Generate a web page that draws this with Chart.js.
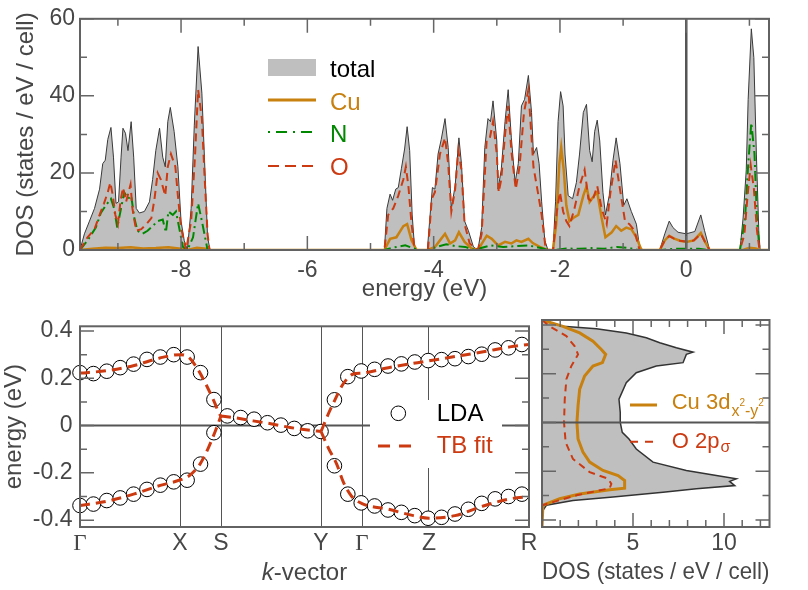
<!DOCTYPE html>
<html>
<head>
<meta charset="utf-8">
<title>DOS and band structure</title>
<script src="https://cdn.jsdelivr.net/npm/chart.js@4.4.1/dist/chart.umd.min.js"></script>
<style>
  body { margin: 0; background: #fff; }
  #wrap { position: relative; width: 808px; height: 590px; overflow: hidden; }
  canvas { position: absolute; }
</style>
</head>
<body>
<div id="wrap">
  <canvas id="dosChart" width="808" height="305" style="left:0;top:0"></canvas>
  <canvas id="bandChart" width="560" height="285" style="left:0;top:305px"></canvas>
  <canvas id="pdosChart" width="308" height="285" style="left:500px;top:305px"></canvas>
</div>
<script>
// top panel: projected DOS (energy in eV, DOS in states / eV / cell)
const totalE = [-9.6, -9.53, -9.45, -9.37, -9.29, -9.24, -9.2, -9.16, -9.11, -9.07, -9.03, -8.99, -8.95, -8.92, -8.88, -8.84, -8.79, -8.75, -8.71, -8.66, -8.58, -8.5, -8.45, -8.4, -8.34, -8.29, -8.25, -8.21, -8.17, -8.11, -8.05, -8.0, -7.95, -7.9, -7.84, -7.79, -7.73, -7.67, -7.63, -7.58, -7.54,
  -4.78, -4.74, -4.69, -4.65, -4.6, -4.56, -4.51, -4.46, -4.42, -4.38, -4.34, -4.3, -4.1, -4.06, -4.02, -3.98, -3.93, -3.88, -3.82, -3.77, -3.72, -3.66, -3.6, -3.56, -3.51, -3.45, -3.37, -3.3, -3.24, -3.19, -3.14, -3.1, -3.06, -3.0, -2.98, -2.93, -2.87, -2.82, -2.77, -2.71, -2.66, -2.61, -2.56, -2.5, -2.45, -2.42, -2.37, -2.33, -2.29, -2.24, -2.19, -2.11, -2.07, -2.03, -1.99, -1.95, -1.92, -1.87, -1.8, -1.74, -1.69, -1.63, -1.58, -1.53, -1.49, -1.45, -1.41, -1.37, -1.32, -1.28, -1.22, -1.16, -1.11, -1.05, -0.99, -0.94, -0.87, -0.79, -0.74, -0.68,
  -0.42, -0.34, -0.27, -0.21, -0.13, 0, 0.135, 0.23, 0.29, 0.37, 0.85, 0.9, 0.95, 0.98, 1.03, 1.07, 1.11, 1.15, 1.17, 1.31];
const totalDos = [0, 4.2, 7.5, 10.8, 15.8, 22.4, 23.3, 28.7, 31.8, 24.1, 12.1, 12.5, 24.1, 31.6, 30.3, 25.8, 33.3, 24.1, 10.8, 9.6, 10.0, 12.5, 18.3, 25.8, 31.6, 24.1, 21.6, 33.3, 37.0, 30.8, 21.6, 7.5, 2.5, 0, 10.8, 32.4, 52.8, 40.7, 24.1, 3.3, 0,
  0, 10.8, 14.5, 12.9, 15.8, 16.2, 21.2, 26.2, 32.0, 25.8, 9.1, 0, 0, 8.3, 16.2, 15.8, 24.9, 28.7, 34.1, 26.6, 10.8, 16.6, 29.1, 22.4, 7.5, 5.0, 0.8, 0, 5.8, 26.6, 34.1, 33.3, 38.7, 28.3, 15.8, 20.8, 33.3, 41.6, 29.1, 17.5, 22.4, 37.4, 39.1, 45.3, 35.7, 24.9, 26.6, 22.4, 12.5, 2.5, 0, 0, 12.5, 33.3, 41.1, 37.4, 24.9, 14.1, 13.3, 17.5, 24.9, 35.7, 37.8, 25.8, 22.9, 30.8, 33.7, 28.3, 15.0, 9.1, 14.1, 23.3, 29.1, 22.4, 11.6, 13.3, 10.0, 6.7, 0.8, 0,
  0, 4.2, 7.5, 5.8, 4.6, 4.2, 4.8, 9.1, 5.0, 0, 0, 8.3, 20.8, 39.1, 57.4, 49.9, 24.9, 4.2, 0, 0];

const cuE = [-9.6, -9.4, -9.2, -9.0, -8.8, -8.6, -8.4, -8.2, -8.0, -7.9, -7.75, -7.6, -7.54,
  -4.78, -4.69, -4.59, -4.48, -4.42, -4.35, -4.27, -4.09, -3.98, -3.9, -3.82, -3.74, -3.66, -3.6, -3.51, -3.4, -3.3, -3.22, -3.16, -3.08, -2.98, -2.87, -2.77, -2.69, -2.61, -2.5, -2.43, -2.32, -2.2, -2.11, -2.06, -2.01, -1.98, -1.94, -1.9, -1.85, -1.79, -1.71, -1.63, -1.58, -1.53, -1.46, -1.41, -1.34, -1.28, -1.18, -1.11, -1.03, -0.95, -0.87, -0.79, -0.71,
  -0.42, -0.34, -0.27, -0.2, -0.1, 0, 0.12, 0.23, 0.3, 0.37, 0.9, 1.0, 1.1, 1.17, 1.31];
const cuDos = [0, 0.3, 0.6, 0.5, 0.7, 0.4, 0.5, 0.7, 0.3, 0, 0.6, 0.3, 0,
  0, 2.9, 3.3, 6.2, 6.7, 2.5, 0, 0, 0.8, 2.5, 4.2, 1.7, 2.5, 4.6, 2.1, 0.4, 0, 2.1, 3.7, 2.9, 1.2, 2.1, 1.7, 2.5, 2.1, 2.9, 1.8, 0.8, 0, 0, 6.7, 22.4, 26.6, 20.8, 11.6, 7.5, 8.3, 9.1, 14.1, 16.5, 12.5, 14.1, 15.0, 8.3, 3.3, 4.6, 6.2, 5.0, 5.8, 5.4, 3.3, 0,
  0, 2.5, 3.7, 3.0, 2.4, 2.1, 2.5, 4.4, 2.0, 0, 0, 0.6, 0.4, 0, 0];

const nE = [-9.6, -9.48, -9.35, -9.27, -9.19, -9.11, -9.06, -9.01, -8.95, -8.9, -8.84, -8.79, -8.74, -8.69, -8.61, -8.53, -8.45, -8.37, -8.29, -8.24, -8.2, -8.13, -8.08, -8.03, -7.97, -7.9, -7.81, -7.73, -7.67, -7.63, -7.58,
  -4.78, -4.65, -4.45, -4.33, -4.25, -4.1, -3.95, -3.8, -3.65, -3.5, -3.35, -3.25, -3.1, -2.9, -2.7, -2.5, -2.3, -2.2, -2.1, -1.9, -1.7, -1.5, -1.3, -1.1, -0.9, -0.75, -0.4, -0.2, 0.2, 0.35, 0.85, 0.93, 0.98, 1.03, 1.08, 1.12, 1.16, 1.31];
const nDos = [0, 2.5, 5.8, 9.6, 11.6, 13.3, 10.8, 5.8, 10.8, 15.0, 13.3, 14.1, 8.3, 5.0, 4.2, 5.0, 6.2, 7.5, 7.9, 4.6, 10.0, 9.1, 10.0, 5.8, 0.8, 0, 3.3, 12.1, 7.5, 4.2, 0,
  0, 0.6, 1.2, 0.5, 0, 0, 0.8, 1.5, 1.0, 0.8, 0, 0.5, 1.2, 0.8, 1.0, 1.2, 0.5, 0, 0, 0.4, 0.3, 0.5, 0.3, 0.8, 0.5, 0, 0, 0.3, 0.3, 0, 0, 8, 22, 33, 25, 8, 0, 0];

const oE = [-9.6, -9.48, -9.37, -9.29, -9.22, -9.16, -9.12, -9.08, -9.04, -9.0, -8.96, -8.92, -8.87, -8.8, -8.77, -8.71, -8.63, -8.55, -8.47, -8.42, -8.37, -8.32, -8.25, -8.21, -8.16, -8.09, -8.05, -8.0, -7.92, -7.84, -7.78, -7.73, -7.67, -7.63, -7.58, -7.55,
  -4.78, -4.72, -4.64, -4.56, -4.48, -4.44, -4.4, -4.35, -4.3, -4.09, -4.03, -3.98, -3.9, -3.82, -3.77, -3.72, -3.66, -3.61, -3.56, -3.51, -3.43, -3.3, -3.24, -3.16, -3.11, -3.06, -3.0, -2.97, -2.93, -2.87, -2.82, -2.77, -2.7, -2.64, -2.57, -2.5, -2.45, -2.42, -2.35, -2.29, -2.23, -2.17, -2.11, -2.05, -2.0, -1.95, -1.9, -1.85, -1.77, -1.69, -1.61, -1.55, -1.49, -1.41, -1.34, -1.26, -1.2, -1.12, -1.05, -0.97, -0.9, -0.82, -0.74,
  -0.42, -0.34, -0.27, -0.2, -0.1, 0, 0.12, 0.23, 0.3, 0.37, 0.85, 0.92, 0.97, 1.02, 1.07, 1.12, 1.16, 1.31];
const oDos = [0, 3.3, 5.4, 9.1, 12.1, 15.0, 17.5, 14.1, 9.1, 6.7, 12.5, 16.2, 12.5, 17.0, 10.8, 5.0, 5.4, 6.7, 8.3, 13.3, 20.0, 18.3, 14.1, 21.6, 24.9, 21.6, 14.1, 5.8, 0, 7.5, 24.1, 41.6, 34.1, 20, 4.2, 0,
  0, 9.1, 10.8, 14.1, 18.3, 21.6, 16.6, 6.7, 0, 0, 13.3, 15.0, 24.9, 29.1, 22.4, 10.0, 15.8, 25.8, 20.8, 6.7, 1.7, 0, 4.2, 28.7, 29.1, 33.3, 24.9, 15.0, 18.3, 29.9, 37.4, 25.8, 15.8, 21.6, 35.7, 41.6, 29.1, 21.6, 15.0, 9.1, 0.8, 0, 0, 10.0, 15.0, 10.0, 7.5, 6.2, 10.8, 16.6, 20.8, 13.3, 12.5, 16.6, 10.8, 6.7, 15.0, 23.3, 15.8, 7.5, 6.7, 5.0, 0,
  0, 2.5, 3.6, 3.0, 2.4, 2.2, 2.5, 4.2, 2.0, 0, 0, 4, 14, 22, 16, 5, 0, 0];

// bottom left: bands along the k-path
const kPos = [0, 7.47, 10.53, 18, 21.06, 26.06, 33.53];
const kLabels = ['Γ', 'X', 'S', 'Y', 'Γ', 'Z', 'R'];

const ldaK = [0, 1, 2, 3, 4, 5, 6, 7, 8, 9, 10, 11, 12, 13, 14, 15, 16, 17, 18, 19, 20, 21, 22, 23, 24, 25, 26, 27, 28, 29, 30, 31, 32, 33];
const ldaUpper = [0.224, 0.22, 0.23, 0.245, 0.26, 0.28, 0.29, 0.30, 0.29, 0.224, 0.11, 0.041, 0.034, 0.027, 0.012, 0.002, -0.012, -0.022, -0.025, 0.109, 0.207, 0.231, 0.238, 0.252, 0.261, 0.269, 0.275, 0.279, 0.283, 0.292, 0.302, 0.32, 0.329, 0.343];
const ldaLower = [-0.338, -0.332, -0.317, -0.306, -0.29, -0.27, -0.252, -0.238, -0.231, -0.163, -0.03, null, null, null, null, null, null, null, null, -0.17, -0.29, -0.327, -0.34, -0.357, -0.367, -0.381, -0.392, -0.388, -0.374, -0.354, -0.329, -0.31, -0.30, -0.29];

// TB fit, pieces separated by null
const tbK = [0, 1.99, 3.98, 5.97, 7.47, 8.09, 8.8, 9.56, 10.06, 10.4, 10.53, 10.53,
  0, 2, 4, 6, 7.47, 8.2, 8.96, 9.58, 10.08, 10.53, 10.53,
  10.53, 11.45, 12.93, 14.42, 15.68, 17.17, 18, 18,
  18, 18.55, 19.04, 19.66, 20.41, 21.06, 23.03, 26.06, 28.0, 30.12, 32.11, 33.53, 33.53,
  18, 18.55, 19.17, 19.66, 20.28, 21.06, 23.03, 24.9, 26.06, 28.0, 30.12, 32.11, 33.53];
const tbE = [0.222, 0.232, 0.253, 0.286, 0.30, 0.29, 0.238, 0.157, 0.096, 0.05, 0.041, null,
  -0.338, -0.32, -0.29, -0.253, -0.23, -0.21, -0.163, -0.095, -0.027, 0.041, null,
  0.041, 0.034, 0.02, 0.006, -0.008, -0.02, -0.025, null,
  -0.025, 0.05, 0.109, 0.177, 0.218, 0.222, 0.245, 0.274, 0.292, 0.312, 0.333, 0.343, null,
  -0.025, -0.095, -0.163, -0.238, -0.299, -0.33, -0.354, -0.381, -0.392, -0.381, -0.34, -0.31, -0.30];

// bottom right: DOS near the Fermi level (energy on the vertical axis)
const pdosTotalE = [0.42, 0.394, 0.384, 0.367, 0.347, 0.327, 0.306, 0.288, 0.279, 0.245, 0.231, 0.204, 0.163, 0.095, 0.041, 0, -0.041, -0.068, -0.109, -0.163, -0.197, -0.218, -0.231, -0.242, -0.259, -0.272, -0.286, -0.306, -0.32, -0.34, -0.367, -0.43];
const pdosTotal = [0, 1.15, 2.99, 4.63, 5.73, 6.47, 7.38, 8.3, 7.93, 7.75, 6.28, 5.18, 4.63, 4.23, 4.3, 4.3, 4.41, 4.78, 5.18, 6.1, 7.93, 9.58, 10.68, 10.31, 10.59, 8.48, 6.65, 3.9, 1.7, 0.24, 0, 0];
const pdosCuE = [0.42, 0.394, 0.367, 0.333, 0.299, 0.279, 0.245, 0.231, 0.19, 0.136, 0.068, 0, -0.068, -0.122, -0.163, -0.197, -0.218, -0.238, -0.27, -0.276, -0.294, -0.313, -0.34, -0.43];
const pdosCu = [0, 1.15, 2.07, 2.8, 3.26, 3.5, 3.32, 2.8, 2.34, 2.07, 1.98, 1.92, 1.98, 2.25, 2.62, 3.35, 4.18, 4.54, 4.54, 3.72, 2.07, 0.97, 0.05, 0];
const pdosOE = [0.42, 0.394, 0.354, 0.313, 0.279, 0.231, 0.177, 0.095, 0, -0.082, -0.15, -0.204, -0.231, -0.252, -0.27, -0.299, -0.34, -0.43];
const pdosO = [0, 0.42, 1.34, 1.79, 1.98, 1.61, 1.34, 1.25, 1.21, 1.3, 1.7, 2.62, 3.63, 3.81, 3.72, 1.9, 0, 0];

const ORANGE = '#c8800f';
const RED = '#cc3a12';
const GREEN = '#008800';
const GREY = '#bfbfbf';
const INK = '#474747';
const LINE = '#555555';
const FONT = "'Liberation Sans', Arial, sans-serif";

Chart.defaults.font.family = FONT;
Chart.defaults.font.size = 23;
Chart.defaults.color = INK;
Chart.defaults.animation = false;
Chart.defaults.plugins.legend.display = false;
Chart.defaults.plugins.tooltip.enabled = false;

function pts(xs, ys) {
    return xs.map((x, i) => ({ x: x, y: ys[i] }));
}

// inward tick marks on both sides of the frame
function innerTicks(chart, key, minor, major) {
    const { ctx, chartArea: a } = chart;
    const s = chart.scales[key];
    ctx.save();
    ctx.strokeStyle = '#666';
    ctx.lineWidth = 1.5;
    for (let i = Math.ceil(s.min / minor - 1e-6); i <= Math.floor(s.max / minor + 1e-6); i++) {
        const v = i * minor;
        const len = Math.abs(v / major - Math.round(v / major)) < 1e-6 ? 14 : 7;
        const p = s.getPixelForValue(v);
        ctx.beginPath();
        if (key === 'x') {
            ctx.moveTo(p, a.bottom); ctx.lineTo(p, a.bottom - len);
            ctx.moveTo(p, a.top); ctx.lineTo(p, a.top + len);
        } else {
            ctx.moveTo(a.left, p); ctx.lineTo(a.left + len, p);
            ctx.moveTo(a.right, p); ctx.lineTo(a.right - len, p);
        }
        ctx.stroke();
    }
    ctx.restore();
}

function frame(chart) {
    const { ctx, chartArea: a } = chart;
    ctx.save();
    ctx.strokeStyle = '#626262';
    ctx.lineWidth = 2;
    ctx.strokeRect(a.left, a.top, a.right - a.left, a.bottom - a.top);
    ctx.restore();
}

function hLine(ctx, x1, x2, y, color, width, dash) {
    ctx.save();
    ctx.strokeStyle = color;
    ctx.lineWidth = width;
    ctx.setLineDash(dash);
    ctx.beginPath();
    ctx.moveTo(x1, y);
    ctx.lineTo(x2, y);
    ctx.stroke();
    ctx.restore();
}

function text(ctx, str, x, y, color, font) {
    ctx.font = font;
    ctx.fillStyle = color;
    ctx.textAlign = 'left';
    ctx.textBaseline = 'alphabetic';
    ctx.fillText(str, x, y);
    return x + ctx.measureText(str).width;
}

const dosExtras = {
    id: 'dosExtras',
    afterDatasetsDraw(chart) {
        const { ctx, chartArea: a, scales: { x } } = chart;
        const p = x.getPixelForValue(0);
        ctx.save();
        ctx.strokeStyle = LINE;
        ctx.lineWidth = 2.5;
        ctx.beginPath();
        ctx.moveTo(p, a.top);
        ctx.lineTo(p, a.bottom);
        ctx.stroke();
        ctx.restore();
        innerTicks(chart, 'x', 1, 2);
        innerTicks(chart, 'y', 10, 20);
        frame(chart);
    },
    afterDraw(chart) {
        const ctx = chart.ctx;
        ctx.save();
        ctx.fillStyle = GREY;
        ctx.fillRect(268, 59, 48, 17);
        hLine(ctx, 268, 316, 100, ORANGE, 3, []);
        hLine(ctx, 268, 316, 132, GREEN, 2, [2, 6, 11, 6]);
        hLine(ctx, 268, 316, 166, RED, 2, [11, 6]);
        const f = '24px ' + FONT;
        text(ctx, 'total', 330, 76.5, '#000', f);
        text(ctx, 'Cu', 330, 109.5, ORANGE, f);
        text(ctx, 'N', 330, 142.3, GREEN, f);
        text(ctx, 'O', 330, 175, RED, f);
        ctx.restore();
    }
};

const bandExtras = {
    id: 'bandExtras',
    beforeDatasetsDraw(chart) {
        const { ctx, chartArea: a, scales: { y } } = chart;
        hLine(ctx, a.left, a.right, y.getPixelForValue(0), LINE, 2, []);
        // legend box hides the lines behind it
        ctx.save();
        ctx.fillStyle = '#fff';
        ctx.fillRect(370, 95, 132, 68);
        ctx.restore();
    },
    afterDatasetsDraw(chart) {
        innerTicks(chart, 'y', 0.1, 0.2);
        frame(chart);
    },
    afterDraw(chart) {
        const { ctx, chartArea: a } = chart;
        ctx.save();
        ctx.beginPath();
        ctx.arc(398.3, 108.3, 7.3, 0, Math.PI * 2);
        ctx.fillStyle = '#fff';
        ctx.fill();
        ctx.strokeStyle = '#000';
        ctx.lineWidth = 1;
        ctx.stroke();
        hLine(ctx, 378, 420, 141, RED, 3, [12, 9]);
        text(ctx, 'LDA', 436.7, 115.7, '#000', '24px ' + FONT);
        text(ctx, 'TB fit', 436.7, 148.3, RED, '24px ' + FONT);
        // axis title with italic k
        const f = '24px ' + FONT;
        const fi = 'italic 24px ' + FONT;
        ctx.font = fi;
        const wk = ctx.measureText('k').width;
        ctx.font = f;
        const wr = ctx.measureText('-vector').width;
        const x0 = (a.left + a.right) / 2 - (wk + wr) / 2;
        const x1 = text(ctx, 'k', x0, 275, INK, fi);
        text(ctx, '-vector', x1, 275, INK, f);
        ctx.restore();
    }
};

const pdosExtras = {
    id: 'pdosExtras',
    afterDatasetsDraw(chart) {
        const { ctx, chartArea: a, scales: { y } } = chart;
        hLine(ctx, a.left, a.right, y.getPixelForValue(0), LINE, 2, []);
        innerTicks(chart, 'x', 1, 5);
        innerTicks(chart, 'y', 0.1, 0.2);
        frame(chart);
    },
    afterDraw(chart) {
        const ctx = chart.ctx;
        ctx.save();
        hLine(ctx, 130, 157, 100, ORANGE, 3, []);
        hLine(ctx, 130, 157, 136.7, RED, 2, [8, 7]);
        const f = '22px ' + FONT;
        const fs = '16px ' + FONT;
        const fp = '10px ' + FONT;
        let x = text(ctx, 'Cu 3d', 171.7, 103.5, ORANGE, f);
        x = text(ctx, 'x', x + 1, 110.5, ORANGE, fs);
        x = text(ctx, '2', x, 101, ORANGE, fp);
        x = text(ctx, '-y', x, 110.5, ORANGE, fs);
        text(ctx, '2', x, 101, ORANGE, fp);
        x = text(ctx, 'O 2p', 171.7, 143.3, RED, f);
        text(ctx, 'σ', x + 1, 147, RED, fs);
        ctx.restore();
    }
};

new Chart(document.getElementById('dosChart'), {
    type: 'line',
    data: {
        datasets: [
            { label: 'O', data: pts(oE, oDos), borderColor: RED, borderWidth: 2, borderDash: [8, 5], pointRadius: 0, fill: false },
            { label: 'N', data: pts(nE, nDos), borderColor: GREEN, borderWidth: 2, borderDash: [10, 4, 2, 4], pointRadius: 0, fill: false },
            { label: 'Cu', data: pts(cuE, cuDos), borderColor: ORANGE, borderWidth: 2.5, pointRadius: 0, fill: false },
            { label: 'total', data: pts(totalE, totalDos), borderColor: '#3a3a3a', borderWidth: 1, backgroundColor: GREY, pointRadius: 0, fill: 'origin' }
        ]
    },
    options: {
        responsive: false,
        layout: { padding: { top: 9, right: 39, left: 0, bottom: 0 }, autoPadding: false },
        scales: {
            x: {
                type: 'linear', min: -9.6, max: 1.31,
                afterFit: s => { s.height = 55; },
                grid: { display: false, drawTicks: false },
                border: { display: false },
                ticks: { stepSize: 1, autoSkip: false, maxRotation: 0, includeBounds: false, padding: 6.5,
                    callback: v => v % 2 === 0 ? String(v) : '' },
                title: { display: true, text: 'energy (eV)', color: INK, font: { size: 24 }, padding: { top: 0, bottom: 1.5 } }
            },
            y: {
                min: 0, max: 60,
                afterFit: s => { s.width = 80; },
                grid: { display: false, drawTicks: false },
                border: { display: false },
                ticks: { stepSize: 10, autoSkip: false, padding: 5, callback: v => v % 20 === 0 ? String(v) : '' },
                title: { display: true, text: 'DOS (states / eV / cell)', color: INK, font: { size: 24 }, padding: { top: 12.3, bottom: 0 } }
            }
        }
    },
    plugins: [dosExtras]
});

const ldaPoints = pts(ldaK, ldaUpper).concat(pts(ldaK, ldaLower).filter(p => p.y !== null));

new Chart(document.getElementById('bandChart'), {
    type: 'line',
    data: {
        datasets: [
            { label: 'TB fit', data: pts(tbK, tbE), borderColor: RED, borderWidth: 3, borderDash: [10, 6], pointRadius: 0,
              cubicInterpolationMode: 'monotone', spanGaps: false, fill: false },
            { label: 'LDA', data: ldaPoints, showLine: false, pointRadius: 7.3, pointBackgroundColor: '#fff',
              pointBorderColor: '#000', pointBorderWidth: 1, clip: false }
        ]
    },
    options: {
        responsive: false,
        layout: { padding: { top: 15, right: 31, left: 0, bottom: 0 }, autoPadding: false },
        scales: {
            x: {
                type: 'linear', min: 0, max: 33.53,
                afterFit: s => { s.height = 63; },
                afterBuildTicks: s => { s.ticks = kPos.map(v => ({ value: v })); },
                grid: { color: LINE, lineWidth: 1, drawTicks: false },
                border: { display: false },
                ticks: {
                    autoSkip: false, maxRotation: 0, padding: 3,
                    callback: (v, i) => kLabels[i],
                    font: c => ({ family: kLabels[c.index] === 'Γ' ? "'Liberation Serif', serif" : FONT, size: 23 })
                }
            },
            y: {
                min: -0.429, max: 0.42,
                afterFit: s => { s.width = 80; },
                grid: { display: false, drawTicks: false },
                border: { display: false },
                ticks: {
                    stepSize: 0.1, autoSkip: false, includeBounds: false, padding: 7.5,
                    callback: v => {
                        const n = Math.round(v * 10);
                        if (n % 2 !== 0) return '';
                        return n === 0 ? '0' : (n / 10).toFixed(1);
                    }
                },
                title: { display: true, text: 'energy (eV)', color: INK, font: { size: 24 }, padding: { top: 0, bottom: 0 } }
            }
        }
    },
    plugins: [bandExtras]
});

new Chart(document.getElementById('pdosChart'), {
    type: 'line',
    data: {
        datasets: [
            { label: 'O 2pσ', data: pts(pdosO, pdosOE), borderColor: RED, borderWidth: 2, borderDash: [7, 5], pointRadius: 0, fill: false },
            { label: 'Cu 3d', data: pts(pdosCu, pdosCuE), borderColor: ORANGE, borderWidth: 3, pointRadius: 0, fill: false },
            { label: 'total', data: pts(pdosTotal, pdosTotalE), borderColor: '#333', borderWidth: 1.5, backgroundColor: GREY, pointRadius: 0, fill: 'origin' }
        ]
    },
    options: {
        indexAxis: 'y',
        responsive: false,
        layout: { padding: { top: 15, right: 38.5, left: 0, bottom: 0 }, autoPadding: false },
        scales: {
            x: {
                type: 'linear', min: 0, max: 12.5,
                afterFit: s => { s.height = 63; },
                grid: { display: false, drawTicks: false },
                border: { display: false },
                ticks: { stepSize: 5, autoSkip: false, maxRotation: 0, includeBounds: false, padding: 3,
                    callback: v => v === 0 ? '' : String(v) },
                title: { display: true, text: 'DOS (states / eV / cell)', color: INK, font: { size: 24 }, padding: { top: 0, bottom: 3 } }
            },
            y: {
                type: 'linear', min: -0.429, max: 0.42,
                afterFit: s => { s.width = 42; },
                grid: { display: false, drawTicks: false },
                border: { display: false },
                ticks: { display: false, stepSize: 0.1 }
            }
        }
    },
    plugins: [pdosExtras]
});
</script>
</body>
</html>
